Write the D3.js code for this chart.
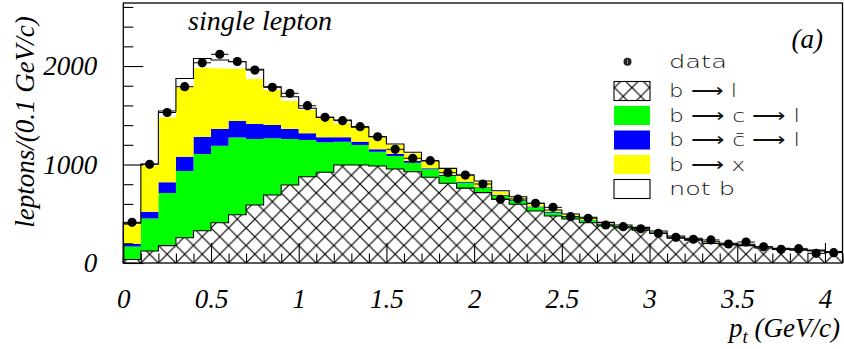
<!DOCTYPE html>
<html>
<head>
<meta charset="utf-8">
<script src="https://cdn.jsdelivr.net/npm/d3@7"></script>
<style>
  html, body { margin: 0; padding: 0; background: #fff; }
  svg { display: block; }
</style>
</head>
<body>
<svg id="chart" width="844" height="349"></svg>
<script>
// Lepton transverse momentum, 0.1 GeV/c bins from 0 to 4.1 GeV/c (lower edges)
const binLow = d3.range(41).map(i => +(i * 0.1).toFixed(1));
const binWidth = 0.1;

// Monte Carlo components, counts per bin
const bToL = [35, 122, 176, 257, 328, 409, 490, 589, 690, 792, 876, 921, 995, 995, 985, 954, 927, 870, 810, 760,
  715, 647, 596, 528, 477, 447, 409, 375, 355, 334, 300, 252, 232, 198, 184, 176, 152, 138, 129, 123, 107];
const bToCToL = [133, 330, 535, 677, 779, 782, 784, 670, 576, 467, 373, 304, 236, 203, 145, 132, 91, 81, 73, 55,
  46, 36, 36, 37, 34, 25, 24, 20, 15, 14, 12, 10, 9, 8, 7, 6, 6, 5, 4, 4, 3];
const bToCbarToL = [25, 69, 108, 144, 172, 169, 168, 152, 135, 101, 68, 51, 45, 33, 24, 21, 18, 10, 10, 10,
  8, 7, 8, 9, 7, 5, 4, 5, 4, 4, 3, 3, 2, 2, 2, 2, 1, 1, 1, 1, 1];
const bToX = [200, 467, 660, 706, 704, 617, 533, 457, 355, 288, 236, 196, 142, 140, 115, 91, 78, 64, 61, 58,
  53, 36, 25, 22, 13, 13, 20, 7, 7, 5, 5, 5, 4, 4, 4, 3, 3, 2, 2, 2, 2];
const notB = [12, 17, 64, 89, 93, 84, 69, 99, 34, 40, 18, 7, 34, 9, 13, 10, 10, 11, 7, 10,
  10, 8, 8, 10, 7, 7, 7, 5, 5, 5, 5, 4, 4, 4, 3, 3, 3, 3, 3, 2, 2];

// Measured lepton counts per bin
const dataCounts = [413, 1002, 1528, 1790, 2033, 2119, 2046, 1959, 1784, 1723, 1597, 1479, 1445, 1384, 1282, 1154,
  1063, 1039, 917, 893, 802, 647, 650, 606, 565, 470, 454, 386, 369, 348, 302, 261, 241, 234, 193, 213,
  165, 139, 145, 98, 105];

// Axis ticks
const xMajorTicks = [0, 0.5, 1, 1.5, 2, 2.5, 3, 3.5, 4];
const xTickLabels = ["0", "0.5", "1", "1.5", "2", "2.5", "3", "3.5", "4"];
const yMajorTicks = [0, 1000, 2000];
const yTickLabels = ["0", "1000", "2000"];

const seriesKeys = ["bToL", "bToCToL", "bToCbarToL", "bToX", "notB"];
const seriesFill = {
  bToL: "url(#crosshatch)",
  bToCToL: "#00ff00",
  bToCbarToL: "#0000ff",
  bToX: "#ffff00",
  notB: "#ffffff"
};

const svg = d3.select("#chart");
const frameLeft = 123.3, frameRight = 842.5, frameTop = 3, frameBottom = 263;

const x = d3.scaleLinear().domain([0, 4.1]).range([frameLeft, frameRight]);
const y = d3.scaleLinear().domain([0, 2640]).range([frameBottom, frameTop]);

// Cross-hatch used for the b -> l component
const defs = svg.append("defs");
const hp = 17.54;
const pat = defs.append("pattern")
  .attr("id", "crosshatch")
  .attr("patternUnits", "userSpaceOnUse")
  .attr("x", frameLeft).attr("y", frameBottom)
  .attr("width", hp).attr("height", hp);
pat.append("rect").attr("width", hp).attr("height", hp).attr("fill", "#fff");
pat.append("path")
  .attr("d", `M0,0L${hp},${hp}M0,${hp}L${hp},0M-2,2L2,-2M${hp - 2},${hp + 2}L${hp + 2},${hp - 2}M-2,${hp - 2}L2,${hp + 2}M${hp - 2},-2L${hp + 2},2`)
  .attr("stroke", "#000").attr("stroke-width", 1.2).attr("fill", "none");

// Build stacked table from the component arrays
const rows = binLow.map((lo, i) => ({
  lo,
  bToL: bToL[i], bToCToL: bToCToL[i], bToCbarToL: bToCbarToL[i], bToX: bToX[i], notB: notB[i]
}));
const stacked = d3.stack().keys(seriesKeys)(rows);

// Step points with a closing edge at the upper end of the last bin
function stepPoints(layer) {
  const pts = layer.map((d, i) => ({ x: binLow[i], y0: d[0], y1: d[1] }));
  const last = pts[pts.length - 1];
  pts.push({ x: last.x + binWidth, y0: last.y0, y1: last.y1 });
  return pts;
}

const area = d3.area()
  .x(d => x(d.x)).y0(d => y(d.y0)).y1(d => y(d.y1))
  .curve(d3.curveStepAfter);
const topLine = d3.line()
  .x(d => x(d.x)).y(d => y(d.y1))
  .curve(d3.curveStepAfter);

const plot = svg.append("g");
stacked.forEach(layer => {
  plot.append("path")
    .attr("d", area(stepPoints(layer)))
    .attr("fill", seriesFill[layer.key])
    .attr("stroke", "none");
});

// Outlines of the b -> l component and of the total prediction
[stacked[0], stacked[stacked.length - 1]].forEach(layer => {
  const pts = stepPoints(layer);
  pts.unshift({ x: 0, y0: 0, y1: 0 });
  plot.append("path")
    .attr("d", topLine(pts))
    .attr("fill", "none")
    .attr("stroke", "#000")
    .attr("stroke-width", 1.1);
});

// Data points with bin-width bars
const dataG = plot.append("g");
dataG.selectAll("line.hbar").data(dataCounts).join("line")
  .attr("class", "hbar")
  .attr("x1", (d, i) => x(binLow[i]))
  .attr("x2", (d, i) => x(binLow[i] + binWidth))
  .attr("y1", d => y(d)).attr("y2", d => y(d))
  .attr("stroke", "#000").attr("stroke-width", 1);
dataG.selectAll("circle").data(dataCounts).join("circle")
  .attr("cx", (d, i) => x(binLow[i] + binWidth / 2))
  .attr("cy", d => y(d))
  .attr("r", 4.6)
  .attr("fill", "#000");

// Axes: ticks point into the frame
const serif = "'Liberation Serif', 'Times New Roman', serif";
const xMinor = d3.range(0, 4.11, 0.1).map(v => +v.toFixed(1)).filter(v => !xMajorTicks.includes(v));
const yMinor = d3.range(0, 2601, 200).filter(v => !yMajorTicks.includes(v));

const xAxisMinor = svg.append("g").attr("transform", `translate(0,${frameBottom})`)
  .call(d3.axisBottom(x).tickValues(xMinor).tickSize(-9.5).tickFormat(""));
const xAxis = svg.append("g").attr("transform", `translate(0,${frameBottom})`)
  .call(d3.axisBottom(x).tickValues(xMajorTicks).tickSize(-20).tickPadding(26)
    .tickFormat((d, i) => xTickLabels[i]));
const yAxisMinor = svg.append("g").attr("transform", `translate(${frameLeft},0)`)
  .call(d3.axisLeft(y).tickValues(yMinor).tickSize(-10).tickFormat(""));
const yAxis = svg.append("g").attr("transform", `translate(${frameLeft},0)`)
  .call(d3.axisLeft(y).tickValues(yMajorTicks).tickSize(-20).tickPadding(26)
    .tickFormat((d, i) => yTickLabels[i]));

[xAxisMinor, xAxis, yAxisMinor, yAxis].forEach(g => {
  g.select(".domain").remove();
  g.selectAll(".tick line").attr("stroke", "#000").attr("stroke-width", 1.1);
  g.selectAll(".tick text")
    .attr("fill", "#000")
    .style("font-family", serif)
    .style("font-style", "italic")
    .style("font-size", "27px");
});

// Frame
svg.append("rect")
  .attr("x", frameLeft).attr("y", frameTop)
  .attr("width", frameRight - frameLeft).attr("height", frameBottom - frameTop)
  .attr("fill", "none").attr("stroke", "#000").attr("stroke-width", 1.3);

// Titles
svg.append("text")
  .attr("transform", "translate(34,122) rotate(-90)")
  .attr("text-anchor", "middle")
  .style("font-family", serif).style("font-style", "italic").style("font-size", "27px")
  .text("leptons/(0.1 GeV/c)");

const xt = svg.append("text")
  .attr("x", 840).attr("y", 337)
  .attr("text-anchor", "end")
  .style("font-family", serif).style("font-style", "italic").style("font-size", "27px");
xt.append("tspan").text("p");
xt.append("tspan").attr("dy", 6).style("font-size", "19px").text("t");
xt.append("tspan").attr("dy", -6).text(" (GeV/c)");

svg.append("text")
  .attr("x", 260).attr("y", 30)
  .attr("text-anchor", "middle")
  .style("font-family", serif).style("font-style", "italic").style("font-size", "28px")
  .text("single lepton");

svg.append("text")
  .attr("x", 823).attr("y", 48)
  .attr("text-anchor", "end")
  .style("font-family", serif).style("font-style", "italic").style("font-size", "27px")
  .text("(a)");

// Legend
const sans = "'DejaVu Sans', sans-serif";
const legend = svg.append("g");
const legendRows = [
  { key: "data", label: "data", cy: 61.7, width: 58 },
  { key: "bToL", label: "b \u27F6 l", cy: 91, width: 68 },
  { key: "bToCToL", label: "b \u27F6 c \u27F6 l", cy: 115.5, width: 131 },
  { key: "bToCbarToL", label: "b \u27F6 c\u0304 \u27F6 l", cy: 140, width: 131 },
  { key: "bToX", label: "b \u27F6 x", cy: 164.5, width: 76 },
  { key: "notB", label: "not b", cy: 189, width: 66 }
];
legendRows.forEach(r => {
  if (r.key === "data") {
    legend.append("circle").attr("cx", 627.5).attr("cy", r.cy).attr("r", 4).attr("fill", "#222");
    legend.append("line").attr("x1", 627.5).attr("x2", 627.5)
      .attr("y1", r.cy - 2.5).attr("y2", r.cy + 2.5).attr("stroke", "#888").attr("stroke-width", 1);
  } else {
    const bordered = r.key === "bToL" || r.key === "notB";
    legend.append("rect")
      .attr("x", 614).attr("y", r.cy - 9.5)
      .attr("width", 36).attr("height", 19)
      .attr("fill", seriesFill[r.key])
      .attr("stroke", bordered ? "#000" : "none")
      .attr("stroke-width", 1.1);
  }
  legend.append("text")
    .attr("x", 669).attr("y", r.cy)
    .attr("dy", "0.36em")
    .attr("textLength", r.width)
    .attr("lengthAdjust", "spacingAndGlyphs")
    .style("font-family", sans)
    .style("font-weight", 200)
    .style("font-size", "18px")
    .attr("fill", "#111")
    .text(r.label);
});
</script>
</body>
</html>
